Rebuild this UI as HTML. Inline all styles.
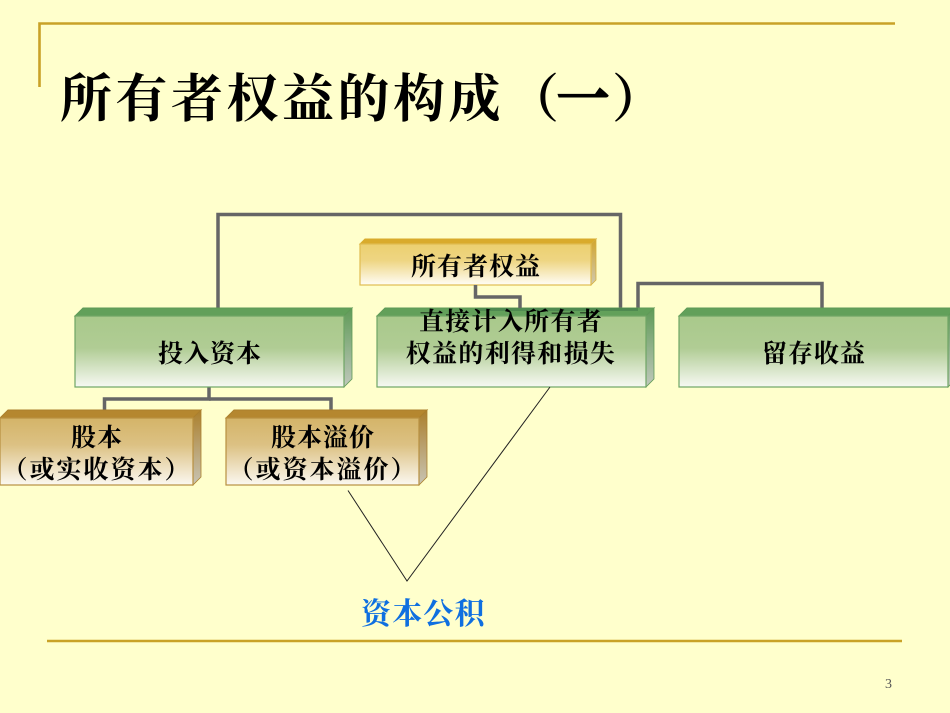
<!DOCTYPE html>
<html lang="zh">
<head>
<meta charset="utf-8">
<style>
html,body{margin:0;padding:0;background:#ffffcc;}
svg{display:block;}
text{font-family:"Liberation Serif","Noto Serif CJK SC",serif;fill:#000;}
.t{font-weight:700;font-size:25px;letter-spacing:1px;text-anchor:middle;}
.h{font-size:52px;font-weight:700;}
</style>
</head>
<body>
<svg width="950" height="713" viewBox="0 0 950 713" xmlns="http://www.w3.org/2000/svg">
<defs>
<linearGradient id="gg" x1="0" y1="0" x2="0" y2="1"><stop offset="0" stop-color="#a9c98b"/><stop offset=".45" stop-color="#b0cc94"/><stop offset="1" stop-color="#f7f9f3"/></linearGradient>
<linearGradient id="gs" x1="0" y1="0" x2="0" y2="1"><stop offset="0" stop-color="#5f9a57"/><stop offset="1" stop-color="#c0c8bc"/></linearGradient>
<linearGradient id="yg" x1="0" y1="0" x2="0" y2="1"><stop offset="0" stop-color="#ecd070"/><stop offset=".4" stop-color="#eed582"/><stop offset="1" stop-color="#fffdf5"/></linearGradient>
<linearGradient id="ys" x1="0" y1="0" x2="0" y2="1"><stop offset="0" stop-color="#d2a52c"/><stop offset="1" stop-color="#cfc8b0"/></linearGradient>
<linearGradient id="tg" x1="0" y1="0" x2="0" y2="1"><stop offset="0" stop-color="#d4b468"/><stop offset=".4" stop-color="#dcc183"/><stop offset="1" stop-color="#fbf8f1"/></linearGradient>
<linearGradient id="ts" x1="0" y1="0" x2="0" y2="1"><stop offset="0" stop-color="#ab7f2c"/><stop offset="1" stop-color="#c8c4b4"/></linearGradient>
</defs>

<rect width="950" height="713" fill="#ffffcc"/>

<!-- frame lines -->
<path d="M39.500 87V23.500H895" fill="none" stroke="#c9a227" stroke-width="2.600"/>
<path d="M47 641H902" fill="none" stroke="#c9a227" stroke-width="2.600"/>

<text class="h" x="60" y="117" style="letter-spacing:3.500px;">所有者权益的构成</text>
<text class="h" x="507" y="117">（</text>
<text class="h" x="557" y="117" style="stroke:#000;stroke-width:2px;">一</text>
<text class="h" x="612" y="117">）</text>

<!-- connectors behind boxes -->
<g fill="none" stroke="#666" stroke-width="3.500">
<path d="M218 309V214.500H620.500V309"/>
<path d="M638 309V283.500H822V309"/>
<path d="M209 387V399H104.500V411"/>
<path d="M209 399H331V411"/>
</g>

<!-- yellow box -->
<polygon points="360,244 365,239 596,239 591,244" fill="#d9ab2c" stroke="#d9ab2c"/>
<polygon points="591,244 596,239 596,280 591,285" fill="url(#ys)" stroke="#d4b040" stroke-width=".8"/>
<rect x="360" y="244" width="231" height="41" fill="url(#yg)" stroke="#e0bc50" stroke-width="1.200"/>

<!-- green 1 -->
<polygon points="75,316 83,308 352,308 344,316" fill="#62a05a" stroke="#5f9a57"/>
<polygon points="344,316 352,308 352,379 344,387" fill="url(#gs)" stroke="#5f9a57" stroke-width=".8"/>
<rect x="75" y="316" width="269" height="71" fill="url(#gg)" stroke="#6fa565" stroke-width="1.200"/>

<!-- green 2 -->
<polygon points="377,316 385,308 654,308 646,316" fill="#62a05a" stroke="#5f9a57"/>
<polygon points="646,316 654,308 654,379 646,387" fill="url(#gs)" stroke="#5f9a57" stroke-width=".8"/>
<rect x="377" y="316" width="269" height="71" fill="url(#gg)" stroke="#6fa565" stroke-width="1.200"/>

<!-- green 3 -->
<polygon points="679,316 687,308 956,308 948,316" fill="#62a05a" stroke="#5f9a57"/>
<polygon points="948,316 956,308 956,379 948,387" fill="url(#gs)" stroke="#5f9a57" stroke-width=".8"/>
<rect x="679" y="316" width="269" height="71" fill="url(#gg)" stroke="#6fa565" stroke-width="1.200"/>

<!-- tan 1 -->
<polygon points="0,418 8,410 201,410 193,418" fill="#b5872f" stroke="#ab7f2c"/>
<polygon points="193,418 201,410 201,477 193,485" fill="url(#ts)" stroke="#ab7f2c" stroke-width=".8"/>
<rect x="0" y="418" width="193" height="67" fill="url(#tg)" stroke="#b89040" stroke-width="1.200"/>

<!-- tan 2 -->
<polygon points="226,418 234,410 427,410 419,418" fill="#b5872f" stroke="#ab7f2c"/>
<polygon points="419,418 427,410 427,477 419,485" fill="url(#ts)" stroke="#ab7f2c" stroke-width=".8"/>
<rect x="226" y="418" width="193" height="67" fill="url(#tg)" stroke="#b89040" stroke-width="1.200"/>

<!-- connectors over top face -->
<g fill="none" stroke="#666" stroke-width="3.500">
<path d="M475.500 285V297H520V309"/>
</g>
<path d="M475 309.500H638" fill="none" stroke="#4f8a50" stroke-width="3"/>

<!-- thin lines -->
<path d="M348 490.500L407 581L550 387" fill="none" stroke="#222" stroke-width="1"/>

<!-- labels -->
<text class="t" x="476" y="275">所有者权益</text>
<text class="t" x="210" y="362">投入资本</text>
<text class="t" x="511" y="330" style="letter-spacing:1.300px;">直接计入所有者</text>
<text class="t" x="511" y="362" style="letter-spacing:1.300px;">权益的利得和损失</text>
<text class="t" x="814" y="362">留存收益</text>
<text class="t" x="97" y="446">股本</text>
<text class="t" x="97" y="478" style="letter-spacing:2px;">（或实收资本）</text>
<text class="t" x="323" y="446">股本溢价</text>
<text class="t" x="323" y="478" style="letter-spacing:2px;">（或资本溢价）</text>

<text x="361" y="624" style="font-size:30px;font-weight:700;letter-spacing:1.200px;fill:#0f6fe0;">资本公积</text>

<text x="885" y="688" style="font-size:14px;fill:#555;">3</text>
</svg>
</body>
</html>
